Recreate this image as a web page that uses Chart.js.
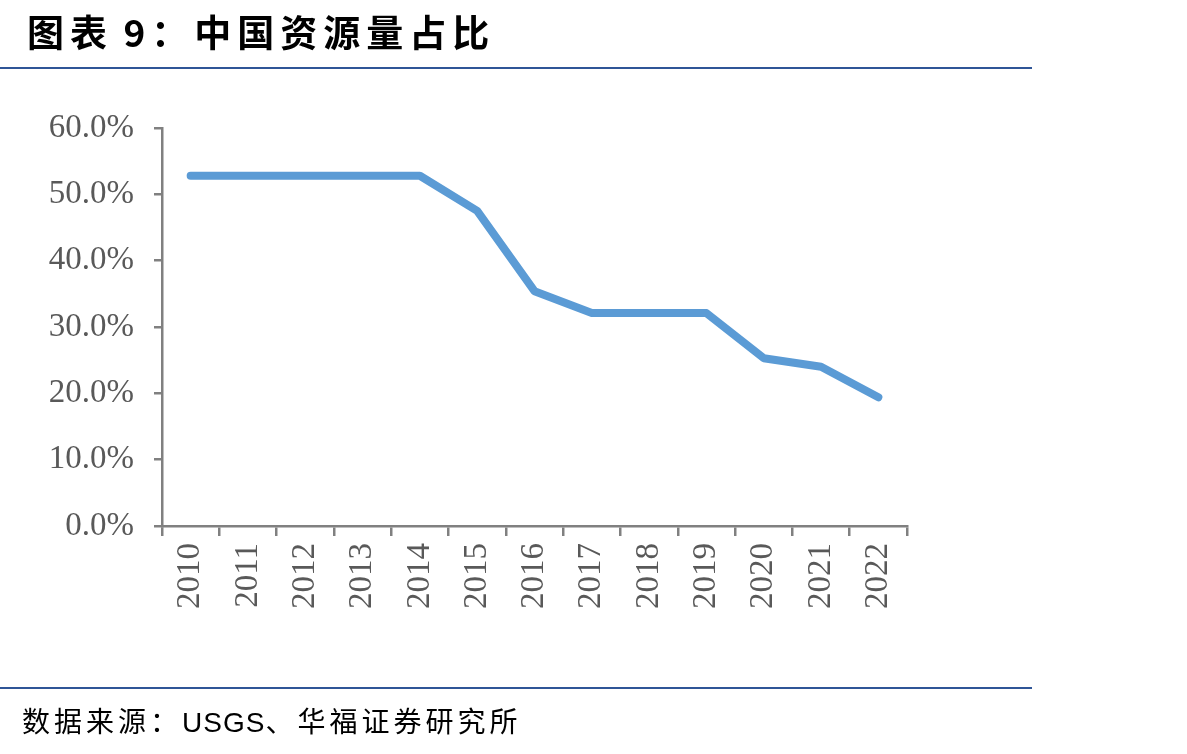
<!DOCTYPE html>
<html>
<head>
<meta charset="utf-8">
<script src="https://cdn.jsdelivr.net/npm/chart.js@4"></script>
<style>
  html, body { margin: 0; padding: 0; background: #fff; }
  #page { position: relative; width: 1187px; height: 754px; overflow: hidden; }
  #title {
    position: absolute; left: 27px; top: 4px;
    font-family: "Noto Sans CJK SC", sans-serif; font-weight: bold;
    font-size: 37px; letter-spacing: 6px; color: #000; white-space: nowrap;
  }
  #title span { letter-spacing: 2px; }
  .rule { position: absolute; left: 0; width: 1032px; height: 2px; background: #2f5597; }
  #source {
    position: absolute; left: 22px; top: 700px;
    font-family: "Noto Sans CJK SC", sans-serif;
    font-size: 28px; letter-spacing: 4px; color: #000; white-space: nowrap;
  }
  #source span { font-family: "Liberation Sans", Arial, sans-serif; letter-spacing: 1px; }
  #wrap { position: absolute; left: 0; top: 0; width: 1187px; height: 754px; }
</style>
</head>
<body>
<div id="page">
  <div id="wrap"><canvas id="chart"></canvas></div>
  <div id="title">图表<span> </span>9：中国资源量占比</div>
  <div class="rule" style="top:67px"></div>
  <div class="rule" style="top:687px"></div>
  <div id="source">数据来源：<span>USGS</span>、华福证券研究所</div>
</div>
<script>
// =====================
// DATA
// =====================
const years = ["2010","2011","2012","2013","2014","2015","2016","2017","2018","2019","2020","2021","2022"];
const shareValues = [52.8, 52.8, 52.8, 52.8, 52.8, 47.5, 35.4, 32.1, 32.1, 32.1, 25.3, 24.0, 19.4];
const yTicks = [0, 10, 20, 30, 40, 50, 60];

// =====================
// CHART
// =====================
const axisColor = "#808080";
const labelFont = { family: "'Liberation Serif', 'Times New Roman', serif", size: 33 };

new Chart(document.getElementById("chart"), {
  type: "line",
  data: {
    labels: years,
    datasets: [{
      data: shareValues,
      borderColor: "#5b9bd5",
      borderWidth: 8,
      pointRadius: 0,
      tension: 0,
      borderCapStyle: "round",
      borderJoinStyle: "round",
      fill: false
    }]
  },
  options: {
    responsive: true,
    maintainAspectRatio: false,
    animation: false,
    layout: { padding: { top: 128, right: 280, left: 0, bottom: 0 } },
    plugins: { legend: { display: false }, tooltip: { enabled: false } },
    scales: {
      x: {
        offset: true,
        grid: { offset: true, drawOnChartArea: false, color: axisColor, lineWidth: 2.5, tickLength: 10 },
        border: { color: axisColor, width: 2.5 },
        ticks: { color: "#595959", font: labelFont, minRotation: 90, maxRotation: 90, padding: 7 },
        afterFit: s => { s.height = 754 - 526; }
      },
      y: {
        min: 0,
        max: 60,
        afterBuildTicks: s => { s.ticks = yTicks.map(v => ({ value: v })); },
        grid: { drawOnChartArea: false, color: axisColor, lineWidth: 2.5, tickLength: 8 },
        border: { color: axisColor, width: 2.5 },
        ticks: { color: "#595959", font: labelFont, padding: 20, callback: v => v.toFixed(1) + "%" },
        afterFit: s => { s.width = 162; }
      }
    }
  }
});
</script>
</body>
</html>
